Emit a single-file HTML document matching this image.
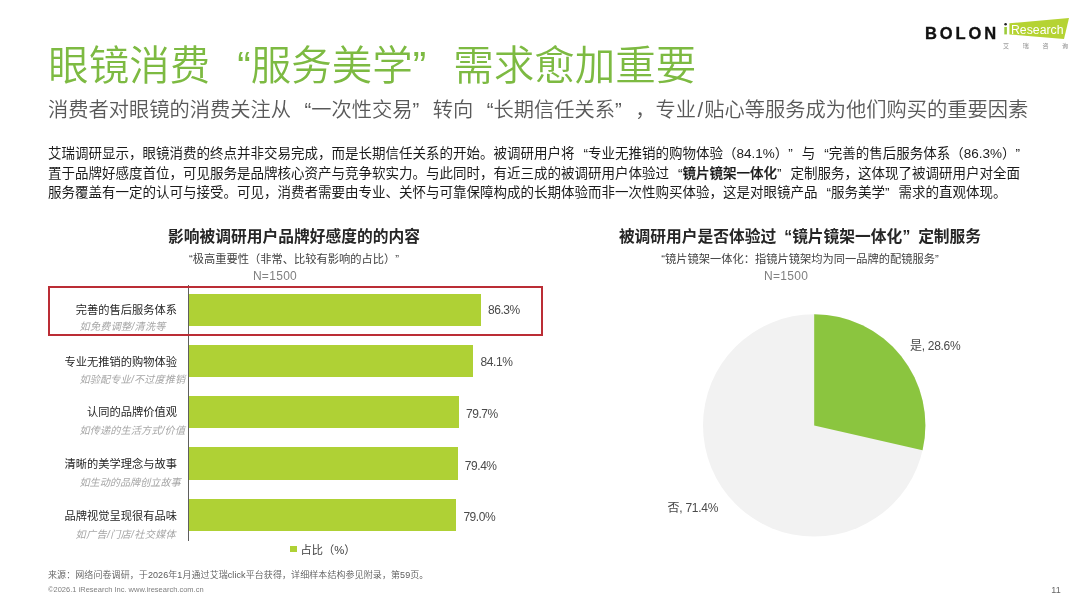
<!DOCTYPE html>
<html lang="zh-CN">
<head>
<meta charset="utf-8">
<title>眼镜消费“服务美学”需求愈加重要</title>
<style>
html,body{margin:0;padding:0;background:#fff;}
body{width:1080px;height:608px;position:relative;overflow:hidden;
  font-family:"Liberation Sans","Noto Sans CJK SC",sans-serif;color:#262626;}
.abs{position:absolute;white-space:nowrap;}
.q{font-family:"Liberation Sans","Noto Sans CJK SC",sans-serif;display:inline-block;width:1em;}
.ql{text-align:right;}
.qr{text-align:left;}
#title{left:48.3px;top:38px;font-size:40.5px;line-height:56px;font-weight:350;color:#7dba42;}
#sub{left:48px;top:96px;font-size:20.25px;line-height:28px;font-weight:350;color:#595959;}
#body{left:48px;top:144px;width:990px;font-size:13.5px;line-height:19.5px;font-weight:400;color:#1a1a1a;white-space:normal;}
#body div{white-space:nowrap;}
.ct{font-size:15.75px;font-weight:700;color:#262626;line-height:22px;text-align:center;}
.cs{font-size:11.25px;color:#404040;line-height:16px;text-align:center;}
.cn{font-size:12px;letter-spacing:0.3px;color:#7f7f7f;line-height:16px;text-align:center;}
.lab{right:903px;font-size:11.25px;line-height:16px;color:#262626;text-align:right;}
.lab2{font-size:10.125px;line-height:14px;color:#a6a6a6;font-style:italic;}
.bar{position:absolute;left:189.1px;height:32.3px;background:#afd135;}
.val{font-size:12px;line-height:16px;color:#4a4a4a;letter-spacing:-0.45px;}
</style>
</head>
<body>
<div id="title" class="abs">眼镜消费<span class="q ql">“</span>服务美学<span class="q qr">”</span>需求愈加重要</div>
<div id="sub" class="abs">消费者对眼镜的消费关注从<span class="q ql">“</span>一次性交易<span class="q qr">”</span>转向<span class="q ql">“</span>长期信任关系<span class="q qr">”</span>，专业<span style="margin:0 1.3px;">/</span>贴心等服务成为他们购买的重要因素</div>
<div id="body" class="abs">
<div>艾瑞调研显示，眼镜消费的终点并非交易完成，而是长期信任关系的开始。被调研用户将<span class="q ql">“</span>专业无推销的购物体验（84.1%）<span class="q qr">”</span>与<span class="q ql">“</span>完善的售后服务体系（86.3%）<span class="q qr">”</span></div>
<div>置于品牌好感度首位，可见服务是品牌核心资产与竞争软实力。与此同时，有近三成的被调研用户体验过<span class="q ql">“</span><b style="font-weight:500;-webkit-text-stroke:0.25px #1a1a1a;">镜片镜架一体化</b><span class="q qr">”</span>定制服务，这体现了被调研用户对全面</div>
<div>服务覆盖有一定的认可与接受。可见，消费者需要由专业、关怀与可靠保障构成的长期体验而非一次性购买体验，这是对眼镜产品<span class="q ql">“</span>服务美学<span class="q qr">”</span>需求的直观体现。</div>
</div>

<!-- left chart -->
<div class="abs ct" style="left:94px;width:400px;top:226px;">影响被调研用户品牌好感度的的内容</div>
<div class="abs cs" style="left:94px;width:400px;top:251.2px;"><span class="q ql">“</span>极高重要性（非常、比较有影响的占比）<span class="q qr">”</span></div>
<div class="abs cn" style="left:175px;width:200px;top:267.5px;">N=1500</div>

<div style="position:absolute;left:188px;top:285px;width:1.1px;height:256px;background:#5e5e5e;"></div>

<div class="bar" style="top:293.8px;width:291.7px;"></div>
<div class="bar" style="top:345.0px;width:283.8px;"></div>
<div class="bar" style="top:396.2px;width:269.5px;"></div>
<div class="bar" style="top:447.4px;width:268.5px;"></div>
<div class="bar" style="top:498.8px;width:267.1px;"></div>

<div class="abs lab" style="top:302.4px;">完善的售后服务体系</div>
<div class="abs lab2" style="top:320.2px;left:79.6px;letter-spacing:0.27px;">如免费调整/清洗等</div>
<div class="abs lab" style="top:353.7px;">专业无推销的购物体验</div>
<div class="abs lab2" style="top:373.1px;left:79.5px;letter-spacing:0.17px;">如验配专业/不过度推销</div>
<div class="abs lab" style="top:404.4px;">认同的品牌价值观</div>
<div class="abs lab2" style="top:424.4px;left:79.4px;letter-spacing:0.17px;">如传递的生活方式/价值</div>
<div class="abs lab" style="top:456.2px;">清晰的美学理念与故事</div>
<div class="abs lab2" style="top:476.3px;left:79.5px;">如生动的品牌创立故事</div>
<div class="abs lab" style="top:508.0px;">品牌视觉呈现很有品味</div>
<div class="abs lab2" style="top:528.1px;left:75.6px;letter-spacing:0.35px;">如广告/门店/社交媒体</div>

<div class="abs val" style="left:488px;top:302.3px;">86.3%</div>
<div class="abs val" style="left:480.6px;top:354.1px;">84.1%</div>
<div class="abs val" style="left:466px;top:405.6px;">79.7%</div>
<div class="abs val" style="left:464.8px;top:457.7px;">79.4%</div>
<div class="abs val" style="left:463.4px;top:509px;">79.0%</div>

<div style="position:absolute;left:48.2px;top:286px;width:494.4px;height:50.4px;border:2.3px solid #bb2d35;box-sizing:border-box;"></div>

<div style="position:absolute;left:290.2px;top:545.8px;width:6.7px;height:6.7px;background:#afd135;"></div>
<div class="abs" style="left:300.5px;top:542.2px;font-size:11.25px;line-height:16px;color:#404040;">占比（%）</div>

<!-- right chart -->
<div class="abs ct" style="left:600px;width:400px;top:226px;">被调研用户是否体验过<span class="q ql">“</span>镜片镜架一体化<span class="q qr">”</span>定制服务</div>
<div class="abs cs" style="left:600px;width:400px;top:251.2px;"><span class="q ql">“</span>镜片镜架一体化：指镜片镜架均为同一品牌的配镜服务<span class="q qr">”</span></div>
<div class="abs cn" style="left:686.2px;width:200px;top:267.5px;">N=1500</div>

<svg class="abs" style="left:690px;top:305px;" width="250" height="245" viewBox="690 305 250 245">
  <circle cx="814.2" cy="425.4" r="111.2" fill="#f2f2f2"/>
  <path d="M814.2 425.4 L814.2 314.2 A111.2 111.2 0 0 1 922.57 450.34 Z" fill="#8bc53f"/>
</svg>
<div class="abs val" style="left:910px;top:337.8px;letter-spacing:-0.3px;">是, 28.6%</div>
<div class="abs val" style="left:667.5px;top:499.5px;letter-spacing:-0.25px;">否, 71.4%</div>

<!-- footer -->
<div class="abs" style="left:48px;top:568.7px;font-size:9px;line-height:13px;color:#5a5a5a;font-weight:350;letter-spacing:0.08px;">来源：网络问卷调研，于2026年1月通过艾瑞click平台获得，详细样本结构参见附录，第59页。</div>
<div class="abs" style="left:48px;top:584.5px;font-size:7.5px;line-height:10px;color:#7f7f7f;">©2026.1 iResearch Inc.  www.iresearch.com.cn</div>
<div class="abs" style="left:1051.3px;top:584.6px;font-size:9px;line-height:10px;color:#666;">11</div>

<!-- logo -->
<div class="abs" style="left:925px;top:23px;font-size:16.5px;line-height:20px;font-weight:700;letter-spacing:2.9px;color:#111;-webkit-text-stroke:0.35px #111;">BOLON</div>
<svg class="abs" style="left:1000px;top:14px;" width="76" height="42" viewBox="1000 14 76 42">
  <polygon points="1009.4,23.3 1069,18.1 1064,38.9 1009.4,34.4" fill="#b5d333"/>
  <text x="1011" y="34.4" font-family="Liberation Sans, sans-serif" font-size="12" fill="#fff" textLength="52.5" lengthAdjust="spacingAndGlyphs">Research</text>
  <rect x="1004.3" y="27" width="2.6" height="7.4" fill="#9ccb3b"/>
  <circle cx="1005.6" cy="24.3" r="1.3" fill="#222"/>
  <text x="1003" y="48.4" font-family="Liberation Sans, Noto Sans CJK SC, sans-serif" font-size="6" fill="#8a8a8a" letter-spacing="13.7">艾瑞咨询</text>
</svg>
</body>
</html>
